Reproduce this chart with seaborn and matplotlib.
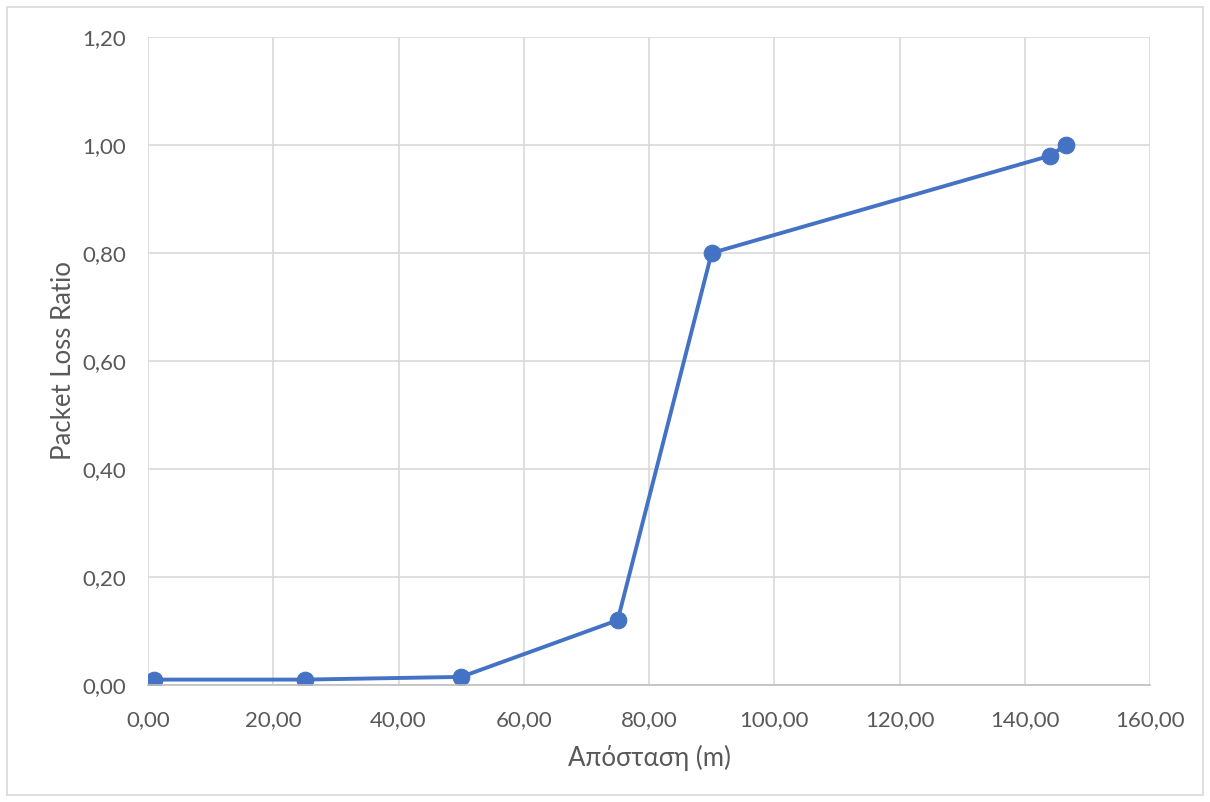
import matplotlib
matplotlib.use("Agg")
import matplotlib.pyplot as plt
import seaborn as sns
import pandas as pd
from matplotlib.ticker import FuncFormatter, MultipleLocator
from matplotlib.patches import Rectangle

distance_m = [1.0, 25.0, 50.0, 75.0, 90.0, 144.0, 146.6]
packet_loss_ratio = [0.01, 0.01, 0.015, 0.12, 0.80, 0.98, 1.00]
x_label = "Απόσταση (m)"
y_label = "Packet Loss Ratio"

df = pd.DataFrame({"x": distance_m, "y": packet_loss_ratio})

sns.set_style("white")
plt.rcParams["font.family"] = ["Lato", "DejaVu Sans"]

fig = plt.figure(figsize=(12.1, 8.02), dpi=100)
ax = fig.add_axes([148/1210, 1-685/802, (1150-148)/1210, (685-37)/802])

line_color = "#4472C4"
sns.lineplot(data=df, x="x", y="y", ax=ax, color=line_color, linewidth=2.8,
             marker="o", markersize=12, markeredgecolor=line_color, sort=False)

ax.set_xlim(0, 160)
ax.set_ylim(0, 1.2)
ax.xaxis.set_major_locator(MultipleLocator(20))
ax.yaxis.set_major_locator(MultipleLocator(0.2))
fmt = FuncFormatter(lambda v, p: f"{v:.2f}".replace(".", ","))
ax.xaxis.set_major_formatter(fmt)
ax.yaxis.set_major_formatter(fmt)

ax.grid(True, color="#D9D9D9", linewidth=1.2)
ax.set_axisbelow(True)
for s in ["top", "right", "left"]:
    ax.spines[s].set_visible(False)
ax.spines["bottom"].set_color("#BFBFBF")
ax.spines["bottom"].set_linewidth(1.2)

ax.tick_params(axis="x", length=0, labelsize=16, labelcolor="#595959", pad=18)
ax.tick_params(axis="y", length=0, labelsize=16, labelcolor="#595959", pad=16)
ax.set_xlabel(x_label, fontsize=18.5, color="#595959", labelpad=11)
ax.set_ylabel(y_label, fontsize=18.5, color="#595959", labelpad=4)

fig.patches.append(Rectangle((7/1210, 7/802), 1196/1210, 788/802, transform=fig.transFigure,
                             fill=False, edgecolor="#D9D9D9", linewidth=1.2))

fig.savefig("out.png", dpi=100, facecolor="white")
